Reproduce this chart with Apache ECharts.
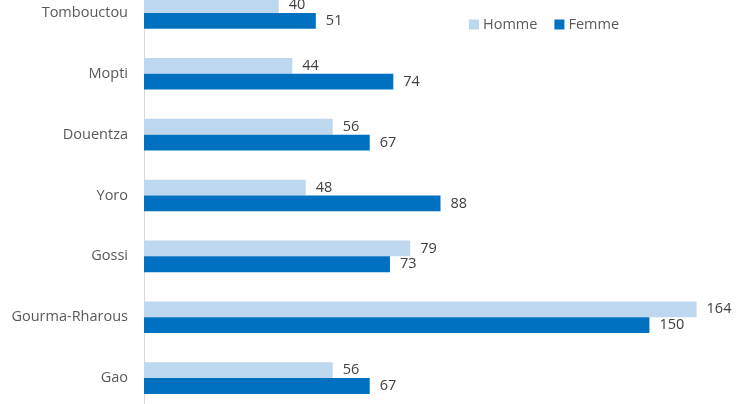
<!DOCTYPE html>
<html><head><meta charset="utf-8">
<script src="https://cdn.jsdelivr.net/npm/echarts@6/dist/echarts.min.js"></script>
<style>html,body{margin:0;padding:0;background:#fff}#c{width:738px;height:404px}</style>
</head><body><div id="c"></div>
<script>
const categories = ["Tombouctou","Mopti","Douentza","Yoro","Gossi","Gourma-Rharous","Gao"];
const homme = [40,44,56,48,79,164,56];
const femme = [51,74,67,88,73,150,67];
const chart = echarts.init(document.getElementById('c'));
const font = "Open Sans";
chart.setOption({
  animation:false,
  textStyle:{fontFamily:font},
  legend:{
    left:469, top:17, padding:0, itemWidth:10, itemHeight:10, itemGap:17,
    icon:'rect',
    textStyle:{fontSize:14.5,color:'#595959',fontFamily:font, padding:[0,0,0,-1]},
    data:['Homme','Femme']
  },
  grid:{left:144, width:593, top:-17.5, height:426, outerBoundsMode:'none', containLabel:false},
  xAxis:{type:'value', min:0, max:176, show:false},
  yAxis:{type:'category', data:categories, inverse:true,
    axisLine:{lineStyle:{color:'#d9d9d9'}}, axisTick:{show:false},
    axisLabel:{fontSize:14.5,color:'#595959',margin:16,fontFamily:font}},
  series:[
    {name:'Homme', type:'bar', data:homme, barGap:'0%', barCategoryGap:'48%',
     itemStyle:{color:'#BDD7EE'},
     label:{show:true,position:'right',distance:10,fontSize:14.5,color:'#404040',fontFamily:font}},
    {name:'Femme', type:'bar', data:femme,
     itemStyle:{color:'#0070C0'},
     label:{show:true,position:'right',distance:10,fontSize:14.5,color:'#404040',fontFamily:font}}
  ]
});
</script></body></html>
